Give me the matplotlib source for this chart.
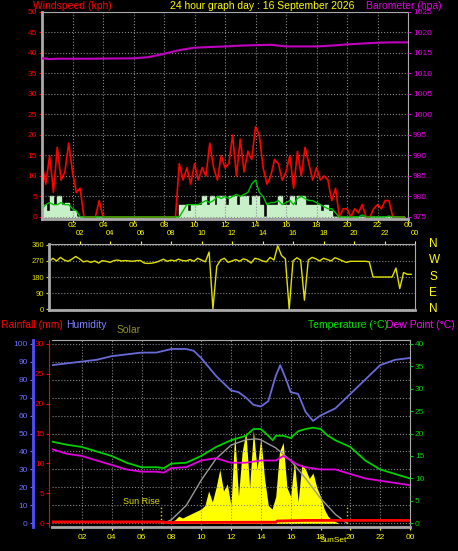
import numpy as np
import matplotlib.pyplot as plt

plt.rcParams['font.family'] = ['Liberation Sans', 'DejaVu Sans']

# ---- data ----
q_hours = np.arange(96) / 4.0  # 15 minute steps

wind_gust = [13, 8, 15, 6, 17, 9, 11, 18, 11, 6, 7, 0, 0, 0, 0, 4,
             0, 0, 0, 0, 0, 0, 0, 0, 0, 0, 0, 0, 0, 0, 0, 0,
             0, 0, 0, 0, 13, 9, 12, 8, 13, 9, 12, 10, 18, 12, 9, 15,
             12, 13, 20, 10, 19, 11, 16, 14, 22, 20, 12, 8, 10, 14, 13, 9,
             11, 15, 7, 16, 10, 17, 13, 9, 12, 9, 10, 9, 4, 7, 0, 2,
             2, 0, 2, 1, 3, 0, 0, 2, 3, 2, 4, 4, 0, 0, 0, 0]
wind_avg = [2, 3, 3.5, 3, 3, 3.5, 3, 3, 2, 1.5, 0, 0, 0, 0, 0, 0,
            0, 0, 0, 0, 0, 0, 0, 0, 0, 0, 0, 0, 0, 0, 0, 0,
            0, 0, 0, 0, 0, 1.5, 3, 3, 3, 3, 3.5, 4, 3.5, 4, 5, 4.5,
            5, 4.5, 5, 5.5, 5, 5.5, 6, 8, 9, 6, 5, 3, 3.5, 3.5, 4, 3,
            3.5, 4, 3, 4.5, 5, 4.5, 4, 4, 3.5, 3, 2.5, 2, 2, 1, 0, 0,
            0, 0, 0, 0, 0.5, 0, 0, 0, 0, 0, 0, 0.2, 0, 0, 0, 0]
wind_speed = [3, 1.5, 5, 3, 5, 3, 3.5, 1.5, 1.5, 0, 0, 0, 0, 0, 0, 0,
              0, 0, 0, 0, 0, 0, 0, 0, 0, 0, 0, 0, 0, 0, 0, 0,
              0, 0, 0, 0, 3, 3, 1.5, 3, 3, 3, 5, 3, 5, 3, 5, 5,
              3, 5, 5, 3, 5, 5, 3, 5, 5, 3, 0, 3, 3, 3, 5, 3,
              3, 5, 3, 5, 5, 3, 3, 3, 3, 1.5, 3, 1.5, 0, 0, 0, 0,
              0, 0, 0, 0, 0, 0, 0, 0, 0, 0, 0, 0, 0, 0, 0, 0]

baro_hours = [0, 0.5, 1, 3, 6, 7, 8, 9, 10, 12, 13, 14, 15, 16, 18, 19, 20, 21, 22, 23, 24]
baro = [1013.7, 1013.5, 1013.6, 1013.6, 1013.7, 1014.0, 1014.8, 1015.7, 1016.3, 1016.6, 1016.8,
        1016.9, 1017.0, 1016.6, 1016.6, 1016.8, 1017.1, 1017.3, 1017.5, 1017.6, 1017.6]

wind_dir = [265, 285, 270, 290, 275, 268, 280, 295, 282, 265, 270, 262,
            270, 258, 272, 268, 262, 272, 275, 270, 272, 270, 268, 272,
            272, 258, 256, 258, 262, 270, 280, 268, 275, 270, 280, 272,
            270, 278, 268, 285, 275, 265, 320, 0, 240, 275, 285, 262,
            270, 278, 268, 282, 275, 258, 285, 280, 270, 265, 290, 275,
            355, 300, 282, 0, 270, 288, 275, 50, 275, 290, 282, 270,
            285, 278, 270, 288, 280, 270, 262, 268, 268, 268, 268, 268,
            265, 180, 180, 180, 180, 180, 180, 230, 115, 205, 195, 195]

hum_hours = [0, 1, 2, 3, 4, 5, 6, 7, 8, 9, 9.5, 10, 11, 12, 12.5, 13, 13.5, 14, 14.5, 15, 15.3,
             15.7, 16, 16.5, 17, 17.5, 18, 19, 20, 21, 22, 23, 24]
humidity = [88, 89, 90, 91, 93, 94, 95, 95, 97, 97, 96, 92, 82, 74, 73, 70, 66, 65, 68, 82, 88,
            80, 73, 72, 62, 57, 60, 64, 72, 80, 88, 91, 92]

temp_hours = [0, 1, 2, 3, 4, 5, 6, 7, 7.5, 8, 9, 10, 11, 12, 12.5, 13, 13.5, 14, 14.5, 14.8, 15,
              15.5, 16, 16.5, 17, 17.5, 18, 18.5, 19, 20, 21, 22, 23, 24]
temperature = [18.2, 17.5, 17, 16, 15, 13.5, 12.5, 12.5, 12.3, 13.3, 13.5, 15, 17, 18.5, 19,
               19.5, 21, 21, 19.5, 18.5, 19.5, 19.5, 19, 20.5, 21, 21.3, 21, 19.5, 18.5, 17, 14,
               12, 11, 10]
dew_hours = [0, 1, 2, 3, 4, 5, 6, 7, 7.5, 8, 9, 10, 11, 11.5, 12, 13, 14, 14.5, 15, 15.5, 16, 16.5,
             17, 18, 19, 20, 21, 22, 23, 24]
dew_point = [16.5, 15.5, 15, 14, 13, 12, 11.5, 11.5, 11.3, 12.3, 12.5, 14, 14.5, 14, 13.5, 13.5,
             14, 14, 14, 15, 14, 13, 12.5, 12, 12, 11, 10, 9.5, 9, 8.5]

rain_hours = [0, 7.5, 7.6, 15, 15.1, 17, 24]
rainfall = [0.25, 0.25, 0.15, 0.2, 0.4, 0.5, 0.5]

solar_hours = np.arange(30, 78) / 4.0
solar = [0, 0.5, 1, 2, 4, 3, 4, 5, 6, 7, 8, 10, 18, 12, 20, 30, 18, 22, 10, 50, 15, 40, 51, 20,
         52, 30, 48, 25, 10, 8, 15, 40, 45, 20, 15, 35, 12, 33, 30, 25, 28, 20, 15, 8, 4, 2, 1, 0]
solar_max_hours = [7.5, 8, 9, 10, 11, 12, 13, 13.7, 14, 15, 16, 17, 18, 19, 19.8]
solar_max = [0, 2, 10, 24, 36, 43.5, 46.5, 47, 46.5, 42, 35, 25, 14, 5, 0]

hour_ticks = list(range(2, 25, 2))
hour_labels = ['%02d' % (h % 24) for h in hour_ticks]

# ---- figure ----
W, H = 458, 551
fig = plt.figure(figsize=(W / 100, H / 100), dpi=100, facecolor='black')


def px_axes(x0, y0, x1, y1):
    return fig.add_axes([x0 / W, 1 - y1 / H, (x1 - x0) / W, (y1 - y0) / H])


def style(ax, lcol, size=6):
    ax.set_facecolor('black')
    ax.grid(True, color='#888888', linestyle=':', linewidth=0.8)
    for s in ax.spines.values():
        s.set_color('#aaaaaa')
    ax.spines['left'].set_linewidth(2)
    ax.spines['bottom'].set_linewidth(2)
    ax.tick_params(axis='y', colors=lcol, labelsize=size, length=2, pad=1.5)
    ax.tick_params(axis='x', colors='yellow', labelsize=size, length=2, pad=0.5)


# top panel: wind + barometer
ax1 = px_axes(42, 12, 408, 219)
style(ax1, 'red')
ax1.fill_between(q_hours, wind_speed, step='post', color='#c8f0c8')
ax1.plot(q_hours, wind_gust, color='red', lw=1.2)
ax1.plot(q_hours, wind_avg, color='#00c000', lw=1)
ax1.set_xlim(0, 24)
ax1.set_ylim(-0.5, 50)
ax1.set_yticks(range(0, 51, 5))
ax1.set_xticks(hour_ticks)
ax1.set_xticklabels(hour_labels)
ax1b = ax1.twinx()
ax1b.plot(baro_hours, baro, color='#c000c0', lw=1.5)
ax1b.set_ylim(974.5, 1025)
ax1b.set_yticks(range(975, 1026, 5))
ax1b.tick_params(axis='y', colors='#e000e0', labelsize=6, length=2, pad=1.5)
for s in ax1b.spines.values():
    s.set_visible(False)

fig.text(33 / W, 1 - 6 / H, 'Windspeed (kph)', color='red', fontsize=7.5, va='center')
fig.text(170 / W, 1 - 6 / H, '24 hour graph day : 16 September 2026', color='yellow',
         fontsize=7.5, va='center')
fig.text(366 / W, 1 - 6 / H, 'Barometer (hpa)', color='#e000e0', fontsize=7.5, va='center')

# middle panel: wind direction
ax2 = px_axes(49, 244, 415, 310)
style(ax2, '#e0e000', size=5.5)
ax2.plot(q_hours, wind_dir, color='#e0e000', lw=1)
ax2.set_xlim(0, 24)
ax2.set_ylim(-5, 365)
ax2.set_yticks([0, 90, 180, 270, 360])
ax2.set_xticks(hour_ticks)
ax2.set_xticklabels(hour_labels)
ax2.xaxis.tick_top()
ax2.tick_params(axis='x', pad=3)
ax2.grid(axis='x', visible=False)
for i, lab in enumerate(['N', 'W', 'S', 'E', 'N']):
    fig.text(429 / W, 1 - (244 + i * 16.3) / H, lab, color='yellow', fontsize=8.5, va='center')

# bottom panel: rain, humidity, solar, temperature
ax3 = px_axes(52, 340, 410, 527)
style(ax3, '#7070ff')
ax3.tick_params(axis='x', pad=3)
ax3.spines['left'].set_position(('outward', 14))
ax3.spines['left'].set_color('#5050ff')
ax3.fill_between(solar_hours, solar, color='yellow', lw=0)
ax3.plot(solar_max_hours, solar_max, color='#999999', lw=1)
ax3.plot(hum_hours, humidity, color='#6a6ad8', lw=1.3)
ax3.set_xlim(0, 24)
ax3.set_ylim(-2, 102)
ax3.set_yticks(range(0, 101, 10))
ax3.set_xticks(hour_ticks)
ax3.set_xticklabels(hour_labels)
ax3.vlines([7.3, 19.8], -2, 10, colors='#e0e000', linestyles=':', lw=1)
ax3.text(7.2, 11, 'Sun Rise', color='#e0e000', fontsize=6.5, ha='right')
fig.text(333 / W, 1 - 540 / H, 'SunSet', color='yellow', fontsize=6, va='center', ha='center')

ax3r = ax3.twinx()
ax3r.plot(rain_hours, rainfall, color='red', lw=2)
ax3r.set_ylim(-0.6, 30.6)
ax3r.yaxis.tick_left()
ax3r.spines['left'].set_visible(True)
ax3r.spines['left'].set_color('red')
ax3r.spines['left'].set_position(('outward', 2))
ax3r.tick_params(axis='y', colors='red', labelsize=6, length=2, pad=1.5)
ax3r.set_yticks(range(0, 31, 5))
for s in ['right', 'top', 'bottom']:
    ax3r.spines[s].set_visible(False)

ax3t = ax3.twinx()
ax3t.plot(temp_hours, temperature, color='#00d000', lw=1.3)
ax3t.plot(dew_hours, dew_point, color='#e000e0', lw=1.3)
ax3t.set_ylim(-0.8, 40.8)
ax3t.set_yticks(range(0, 41, 5))
ax3t.tick_params(axis='y', colors='#00d000', labelsize=6, length=2, pad=1.5)
for s in ax3t.spines.values():
    s.set_visible(False)

fig.text(1 / W, 1 - 325 / H, 'Rainfall (mm)', color='red', fontsize=7.5, va='center')
fig.text(66 / W, 1 - 325 / H, 'Humidity', color='#8080ff', fontsize=7.5, va='center')
fig.text(117 / W, 1 - 330 / H, 'Solar', color='#909020', fontsize=7.5, va='center')
fig.text(308 / W, 1 - 325 / H, 'Temperature (\u00b0C)', color='#00e000', fontsize=7.5, va='center')
fig.text(386 / W, 1 - 325 / H, 'Dew Point (\u00b0C)', color='#ff00ff', fontsize=7.5, va='center')

fig.savefig('out.png', dpi=100, facecolor='black')
